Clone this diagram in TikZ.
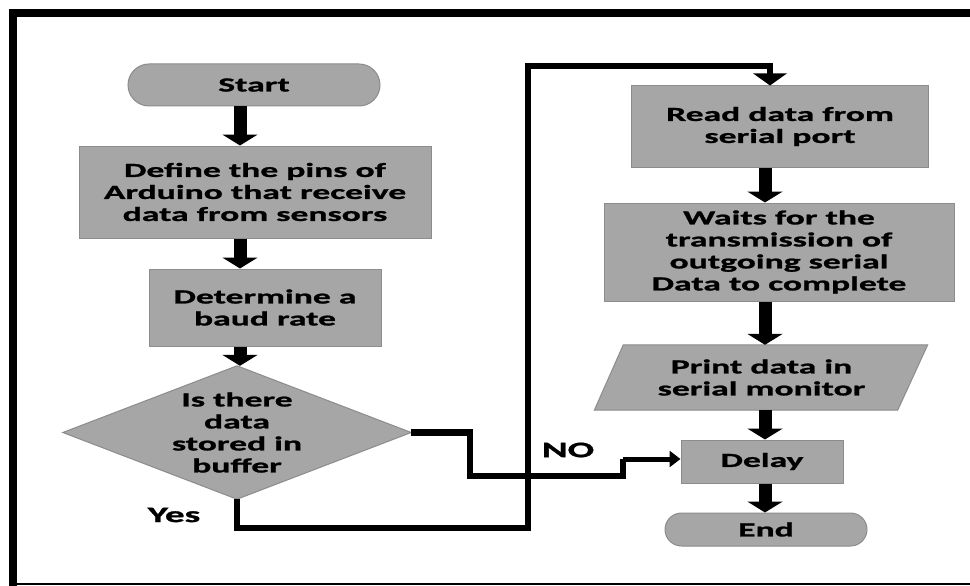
\documentclass[tikz,border=0pt]{standalone}
\usepackage{fontspec}
\setmainfont{Carlito}[FakeStretch=1.78, BoldFeatures={FakeBold=1.2}]
\usetikzlibrary{arrows.meta,shapes.misc,calc,backgrounds}

\definecolor{boxgray}{RGB}{166,166,166}
\definecolor{edgegray}{RGB}{140,140,140}

\tikzset{
  txt/.style={align=center, inner sep=0pt, font=\bfseries\fontsize{20}{22}\selectfont},
  procbox/.style={txt, rectangle, draw=edgegray, line width=1pt, fill=boxgray},
  termbox/.style={txt, rounded rectangle, draw=edgegray, line width=1pt, fill=boxgray},
  shapefill/.style={draw=edgegray, line width=1pt, fill=boxgray},
  blockarrow/.style={line width=13pt, -{Triangle[width=35pt,length=11pt]}},
  flowline/.style={line width=6.5pt},
  lbl/.style={inner sep=0pt, font=\bfseries\fontsize{22}{24}\selectfont},
}

\begin{document}
\begin{tikzpicture}[x=1pt,y=-1pt]
  % canvas
  \begin{scope}[on background layer]
    \fill[white] (0,0) rectangle (970,586);
  \end{scope}
  \useasboundingbox (0,0) rectangle (970,586);

  % frame
  \fill[black] (9,9.5) rectangle (970,17);
  \fill[black] (9,9.5) rectangle (17,586);
  \fill[black] (9,583) rectangle (970,585);

  % left column
  \node[termbox, minimum width=252pt, minimum height=42pt] (start) at (254,85) {Start};
  \node[procbox, minimum width=352pt, minimum height=92pt] (define) at (255,192)
    {Define the pins of\\Arduino that receive\\data from sensors};
  \node[procbox, minimum width=232pt, minimum height=77pt] (determine) at (265,307.5)
    {Determine a\\baud rate};
  \node[txt, minimum width=348pt, minimum height=133pt] (dec) at (237,432.5)
    {Is there\\data\\stored in\\buffer};
  \begin{scope}[on background layer]
    \draw[shapefill] (dec.north) -- (dec.east) -- (dec.south) -- (dec.west) -- cycle;
  \end{scope}

  % right column
  \node[procbox, minimum width=297pt, minimum height=81pt] (read) at (780,126.5)
    {Read data from\\serial port};
  \node[procbox, minimum width=350pt, minimum height=98pt] (waits) at (779,252)
    {Waits for the\\transmission of\\outgoing serial\\Data to complete};
  \node[txt, minimum width=305pt, minimum height=65pt] (print) at (761.5,377.5)
    {Print data in\\serial monitor};
  \begin{scope}[on background layer]
    \draw[shapefill] ($(print.north west)+(14.5,0)$) -- ($(print.north east)+(13.5,0)$)
      -- ($(print.south east)+(-16.5,0)$) -- ($(print.south west)+(-14.5,0)$) -- cycle;
  \end{scope}
  \node[procbox, minimum width=162pt, minimum height=43pt] (delay) at (762,461.5) {Delay};
  \node[termbox, minimum width=202pt, minimum height=33pt] (end) at (766,529.5) {End};

  % arrow columns
  \coordinate (lcol) at (240,0);
  \coordinate (rcol) at (765,0);

  \draw[blockarrow] (start.south -| lcol) -- (define.north -| lcol);
  \draw[blockarrow] (define.south -| lcol) -- (determine.north -| lcol);
  \draw[blockarrow] (determine.south -| lcol) -- (dec.north -| lcol);
  \draw[blockarrow] (read.south -| rcol) -- (waits.north -| rcol);
  \draw[blockarrow] (waits.south -| rcol) -- (print.north -| rcol);
  \draw[blockarrow] (print.south -| rcol) -- (delay.north -| rcol);
  \draw[blockarrow] (delay.south -| rcol) -- (end.north -| rcol);

  % "Yes" branch: around and up to the read step
  \coordinate (yb) at (528,528);
  \coordinate (yt) at (528,66);
  \coordinate (rtop) at (770,66);
  \draw[flowline, -{Triangle[width=33pt,length=12pt]}]
    (dec.south) |- (yb) -- (yt) -- (rtop) -- (rtop |- read.north);

  % "NO" branch: across to the delay step
  \coordinate (n1) at (470,476);
  \coordinate (n2) at (623,459);
  \draw[flowline] (dec.east) -| (n1) -| (n2);
  \draw[line width=5pt, -{Triangle[width=16pt,length=11pt]}] (n2) -- (delay.west |- n2);

  % branch labels
  \node[lbl] (no) at (568,450) {NO};
  \node[lbl] (yes) at (174,515) {Yes};
\end{tikzpicture}
\end{document}
